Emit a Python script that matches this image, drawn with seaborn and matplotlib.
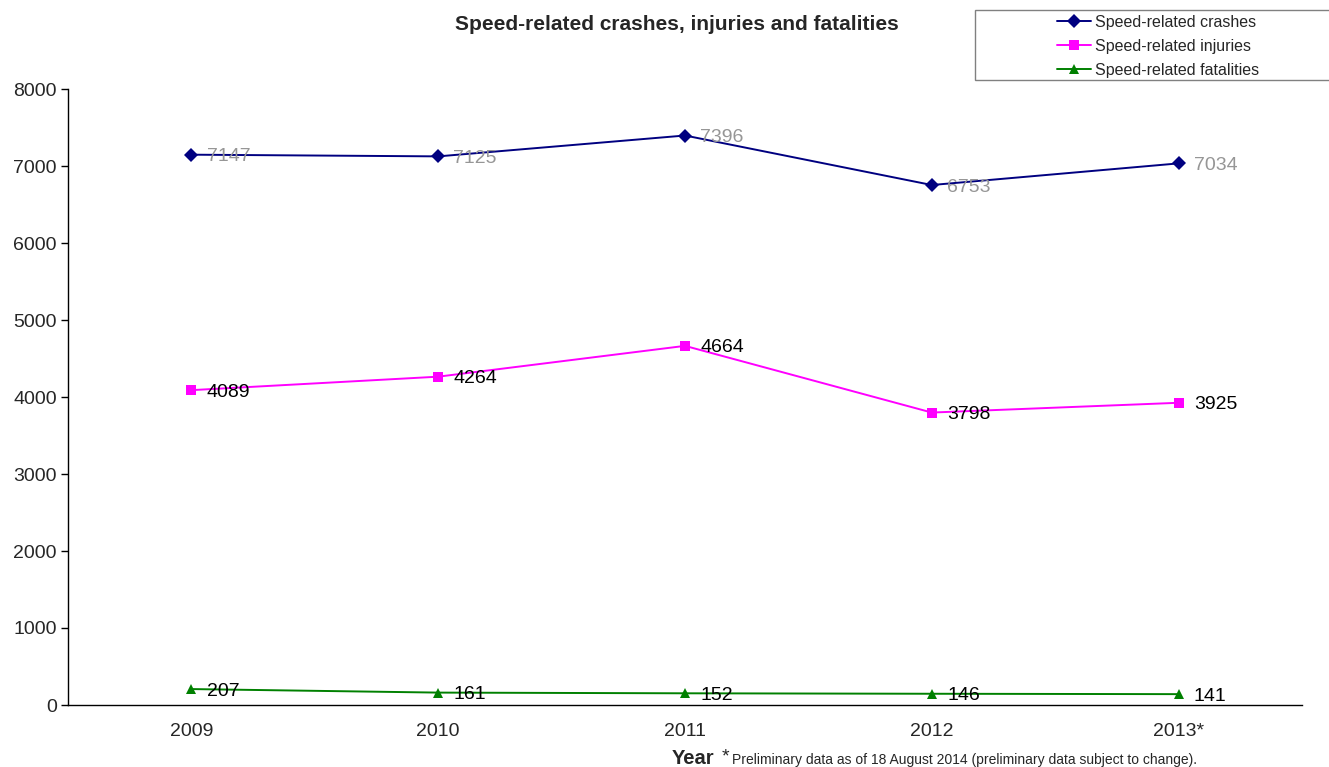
import matplotlib
matplotlib.use("Agg")
import matplotlib.pyplot as plt
from matplotlib.patches import Rectangle
import seaborn as sns
import pandas as pd
import numpy as np

years = ["2009", "2010", "2011", "2012", "2013*"]
crashes = [7147, 7125, 7396, 6753, 7034]
injuries = [4089, 4264, 4664, 3798, 3925]
fatalities = [207, 161, 152, 146, 141]
series_names = ["Speed-related crashes", "Speed-related injuries", "Speed-related fatalities"]
y_ticks = [0, 1000, 2000, 3000, 4000, 5000, 6000, 7000, 8000]

sns.set_style("white")
plt.rcParams["font.family"] = ["Liberation Sans", "DejaVu Sans"]

rows = []
for name, vals in zip(series_names, [crashes, injuries, fatalities]):
    for i, v in enumerate(vals):
        rows.append({"idx": i, "value": v, "series": name})
df = pd.DataFrame(rows)

colors = {series_names[0]: "#000080", series_names[1]: "#FF00FF", series_names[2]: "#008000"}
markers = {series_names[0]: "D", series_names[1]: "s", series_names[2]: "^"}
label_colors = {series_names[0]: "#969696", series_names[1]: "black", series_names[2]: "black"}

W, H = 1329, 767
fig = plt.figure(figsize=(W / 100, H / 100), dpi=100)
ax = fig.add_axes([68 / W, 1 - 705 / H, (1302 - 68) / W, (705 - 89) / H])

sns.lineplot(data=df, x="idx", y="value", hue="series", style="series",
             palette=colors, markers=markers, dashes=False, markersize=7.5,
             linewidth=1.4, markeredgewidth=0, ax=ax, legend=True)

# value labels right of each point
for name, vals in zip(series_names, [crashes, injuries, fatalities]):
    for i, v in enumerate(vals):
        ax.annotate(str(v), (i, v), xytext=(11, -1.5), textcoords="offset points",
                    ha="left", va="center", fontsize=14, color=label_colors[name])

ax.set_xlim(-0.5, 4.5)
ax.set_ylim(0, 8000)
ax.set_yticks(y_ticks)
ax.set_yticklabels([str(t) for t in y_ticks], fontsize=14)
ax.set_xticks(range(len(years)))
ax.set_xticklabels(years, fontsize=14)
ax.tick_params(axis="x", which="major", length=0, pad=13)
ax.set_xticks(np.arange(-0.5, 4.6, 1.0), minor=True)
ax.tick_params(axis="x", which="minor", length=5, width=1, direction="out", color="black")
ax.tick_params(axis="y", length=5, width=1, direction="out", color="black", left=True, pad=3)

for s in ["top", "right"]:
    ax.spines[s].set_visible(False)
for s in ["left", "bottom"]:
    ax.spines[s].set_color("black")
    ax.spines[s].set_linewidth(1)

ax.set_xlabel("")
ax.set_ylabel("")

fig.text(677 / W, 1 - 24 / H, "Speed-related crashes, injuries and fatalities",
         ha="center", va="center", fontsize=15, fontweight="bold")

fig.text(672 / W, 1 - 759 / H, "Year", ha="left", va="center",
         fontsize=14.5, fontweight="bold")
fig.text(722 / W, 1 - 757 / H, "*", ha="left", va="center", fontsize=14)
fig.text(732 / W, 1 - 760 / H,
         "Preliminary data as of 18 August 2014 (preliminary data subject to change).",
         ha="left", va="center", fontsize=10)

# legend box frame, running off the right edge
fig.patches.append(Rectangle((975 / W, 1 - 80 / H), 400 / W, 70 / H,
                             transform=fig.transFigure, facecolor="white",
                             edgecolor="#808080", linewidth=1, zorder=0))

handles, labels = ax.get_legend_handles_labels()
ax.get_legend().remove()
leg = fig.legend(handles, labels, loc="upper left",
                 bbox_to_anchor=(1053 / W, 1 - 11 / H),
                 fontsize=11.5, frameon=False,
                 borderaxespad=0, handlelength=2.1, borderpad=0.25, labelspacing=0.55,
                 handletextpad=0.3)

fig.savefig("out.png", dpi=100)
